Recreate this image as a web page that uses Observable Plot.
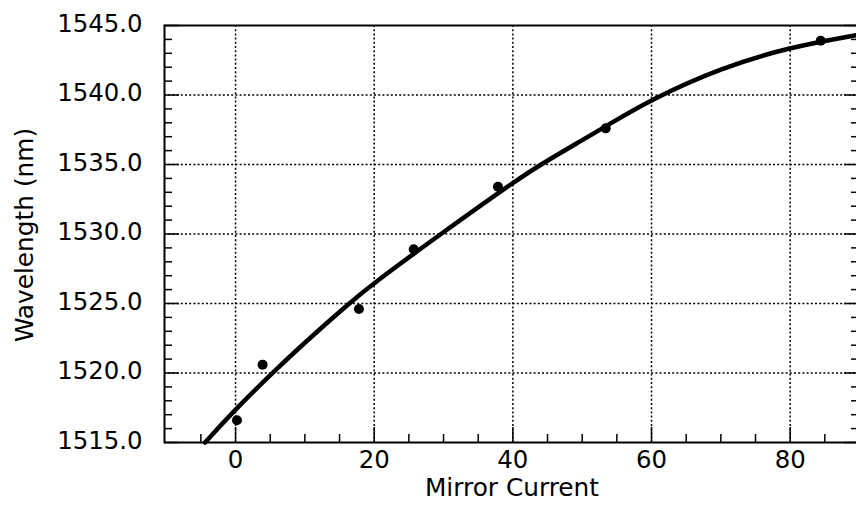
<!DOCTYPE html>
<html><head><meta charset="utf-8">
<script src="https://cdn.jsdelivr.net/npm/d3@7"></script>
<script src="https://cdn.jsdelivr.net/npm/@observablehq/plot@0.6"></script>
<style>body{margin:0;background:#fff} svg{display:block}</style>
</head><body><div id="chart"></div>
<script>
// Measured data points
const pointX = [0.2, 3.9, 17.8, 25.7, 37.85, 53.4, 84.4];
const pointY = [1516.6, 1520.6, 1524.6, 1528.9, 1533.4, 1537.6, 1543.9];
// Fitted curve
const curveX = [-4.4, 0, 5.3, 10, 16.1, 20, 29.6, 40, 44, 50, 53.4, 60, 70, 80, 89.5];
const curveY = [1515.0, 1517.4, 1520.0, 1522.2, 1524.9, 1526.5, 1530.0, 1533.7, 1535.0, 1536.75, 1537.75, 1539.7, 1541.95, 1543.45, 1544.3];
// Axes
const xTickLabels = [0, 20, 40, 60, 80];
const yTickLabels = [1515, 1520, 1525, 1530, 1535, 1540, 1545];
const xMinorTicks = [-5, 5, 10, 15, 25, 30, 35, 45, 50, 55, 65, 70, 75, 85];
const yMinorTicks = [1516,1517,1518,1519,1521,1522,1523,1524,1526,1527,1528,1529,1531,1532,1533,1534,1536,1537,1538,1539,1541,1542,1543,1544];
const yGrid = [1520, 1525, 1530, 1535, 1540];
const xTitle = "Mirror Current";
const yTitle = "Wavelength (nm)";

const width = 856, height = 507;
const marginLeft = 164, marginRight = -3, marginTop = 25, marginBottom = 65;
const W = width - marginLeft - marginRight;
const H = height - marginTop - marginBottom;

const points = pointX.map((x, i) => ({x, y: pointY[i]}));
const curve = curveX.map((x, i) => ({x, y: curveY[i]}));
const dotted = {stroke: "black", strokeWidth: 1.5, strokeDasharray: "2,2.2"};

const chart = Plot.plot({
  width, height, marginLeft, marginRight, marginTop, marginBottom,
  x: {domain: [-10.25, 90]},
  y: {domain: [1515, 1545]},
  style: {fontFamily: "DejaVu Sans", fontSize: "24px", color: "black", background: "white", overflow: "visible"},
  marks: [
    Plot.ruleX(xTickLabels, dotted),
    Plot.ruleY(yGrid, dotted),
    // bottom ticks (inward)
    Plot.ruleX(xMinorTicks, {insetTop: H - 8, stroke: "black", strokeWidth: 1.5}),
    Plot.ruleX(xTickLabels, {insetTop: H - 15, stroke: "black", strokeWidth: 1.5}),
    // left ticks (inward)
    Plot.ruleY(yMinorTicks, {insetRight: W - 8, stroke: "black", strokeWidth: 1.5}),
    Plot.ruleY(yTickLabels, {insetRight: W - 15, stroke: "black", strokeWidth: 1.5}),
    // right ticks (inward)
    Plot.ruleY(yMinorTicks, {insetLeft: W - 8, stroke: "black", strokeWidth: 1.5}),
    Plot.ruleY(yTickLabels, {insetLeft: W - 15, stroke: "black", strokeWidth: 1.5}),
    Plot.frame({stroke: "black", strokeWidth: 2}),
    Plot.axisY({ticks: yTickLabels, tickSize: 0, tickPadding: 22, tickFormat: d => d.toFixed(1), fontSize: 24.4, dy: -1.5, label: null}),
    Plot.axisX({ticks: xTickLabels, tickSize: 0, tickPadding: 8, tickFormat: d => String(d), fontSize: 24.4, label: null}),
    Plot.line(curve, {x: "x", y: "y", curve: "basis", stroke: "black", strokeWidth: 4.5}),
    Plot.dot(points, {x: "x", y: "y", r: 5, fill: "black"}),
    Plot.text([xTitle], {frameAnchor: "bottom", lineAnchor: "top", dy: 35.5, fontSize: 24.8, fill: "black"}),
    Plot.text([yTitle], {frameAnchor: "left", textAnchor: "middle", rotate: -90, dx: -139, dy: 1, fontSize: 24.8, fill: "black"})
  ]
});
document.getElementById("chart").appendChild(chart);
</script>
</body></html>
